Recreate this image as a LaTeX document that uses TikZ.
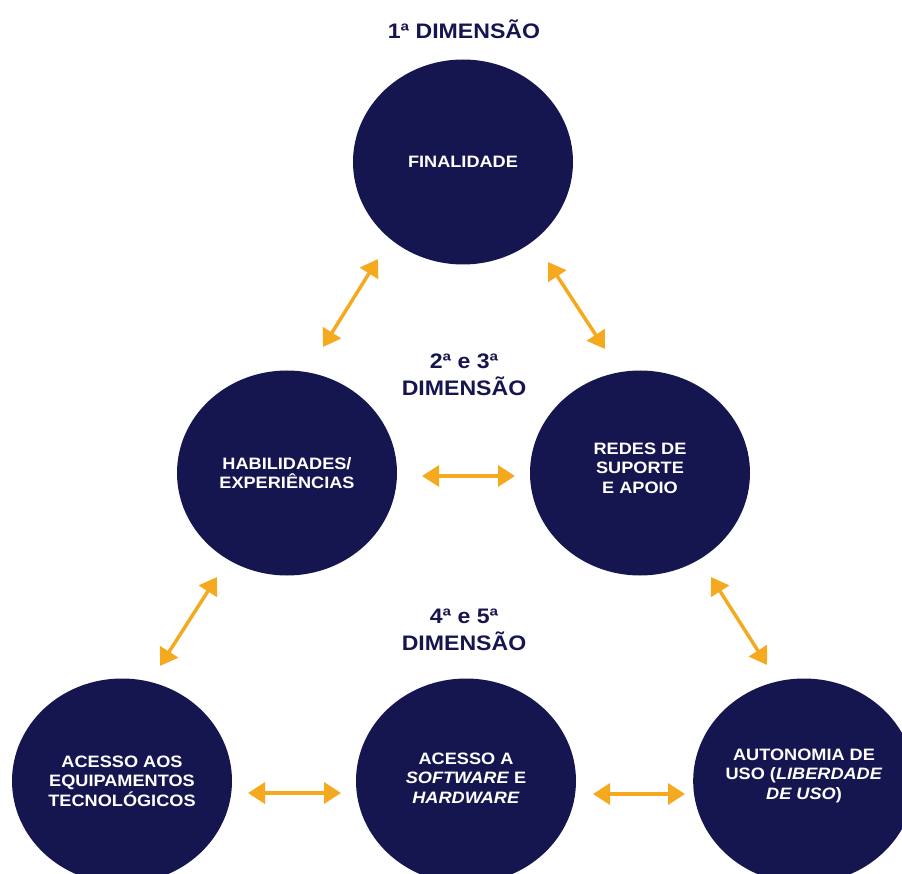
\documentclass[tikz,border=0pt]{standalone}
\usepackage{fontspec}
\setmainfont{Liberation Sans}[FakeStretch=1.1]
\usetikzlibrary{shapes.geometric,arrows.meta}

\definecolor{dim-navy}{HTML}{151550}
\definecolor{dim-orange}{HTML}{F5A91F}
\tikzstyle{dim-title}=[text=dim-navy, font=\fontsize{21}{27}\selectfont\bfseries, align=center, inner sep=0pt]
\tikzstyle{dim-circle}=[ellipse, fill=dim-navy, minimum width=220pt, minimum height=205pt, inner sep=0pt,
      text=white, font=\fontsize{16.5}{19.5}\selectfont\bfseries, align=center]
\tikzstyle{dim-arrow}=[draw=dim-orange, line width=3.5pt,
      {Triangle[length=17pt,width=21pt]}-{Triangle[length=17pt,width=21pt]}]

\begin{document}
\begin{tikzpicture}
      \useasboundingbox (0pt, 0pt) rectangle (902pt, -874pt);
      \clip (0pt, 0pt) rectangle (902pt, -874pt);

      % titles of the dimensions
      \node (dim1) at (464pt, -29pt) [dim-title] {1ª DIMENSÃO};
      \node (dim23) at (464pt, -375pt) [dim-title] {2ª e 3ª\\DIMENSÃO};
      \node (dim45) at (464pt, -630pt) [dim-title] {4ª e 5ª\\DIMENSÃO};

      % circles
      \node (finalidade) at (463pt, -162pt) [dim-circle] {FINALIDADE};
      \node (habilidades) at (287pt, -473pt) [dim-circle] {HABILIDADES/\\EXPERIÊNCIAS};
      \node (redes) at (640pt, -473pt) [dim-circle, text depth=10pt] {REDES DE\\SUPORTE\\E APOIO};
      \node (equipamentos) at (122pt, -781pt) [dim-circle] {ACESSO AOS\\EQUIPAMENTOS\\TECNOLÓGICOS};
      \node (software) at (466pt, -781pt) [dim-circle, text depth=6pt] {ACESSO A\\\textit{SOFTWARE} E\\\textit{HARDWARE}};
      \node (autonomia) at (804pt, -781pt) [dim-circle, text depth=14pt] {AUTONOMIA DE\\USO (\textit{LIBERDADE}\\\textit{DE USO})};

      % arrow ends
      \coordinate (fin-hab-a) at (378pt, -259pt);
      \coordinate (fin-hab-b) at (323pt, -347pt);
      \coordinate (fin-red-a) at (548pt, -262pt);
      \coordinate (fin-red-b) at (605pt, -349pt);
      \coordinate (hab-red-a) at (422pt, -476pt);
      \coordinate (hab-red-b) at (515pt, -476pt);
      \coordinate (hab-equ-a) at (217pt, -577pt);
      \coordinate (hab-equ-b) at (160pt, -666pt);
      \coordinate (red-aut-a) at (711pt, -577pt);
      \coordinate (red-aut-b) at (767pt, -665pt);
      \coordinate (equ-sof-a) at (248pt, -793pt);
      \coordinate (equ-sof-b) at (341pt, -793pt);
      \coordinate (sof-aut-a) at (593pt, -794pt);
      \coordinate (sof-aut-b) at (685pt, -794pt);

      \draw[dim-arrow] (fin-hab-a) -- (fin-hab-b);
      \draw[dim-arrow] (fin-red-a) -- (fin-red-b);
      \draw[dim-arrow] (hab-red-a) -- (hab-red-b);
      \draw[dim-arrow] (hab-equ-a) -- (hab-equ-b);
      \draw[dim-arrow] (red-aut-a) -- (red-aut-b);
      \draw[dim-arrow] (equ-sof-a) -- (equ-sof-b);
      \draw[dim-arrow] (sof-aut-a) -- (sof-aut-b);
\end{tikzpicture}
\end{document}
